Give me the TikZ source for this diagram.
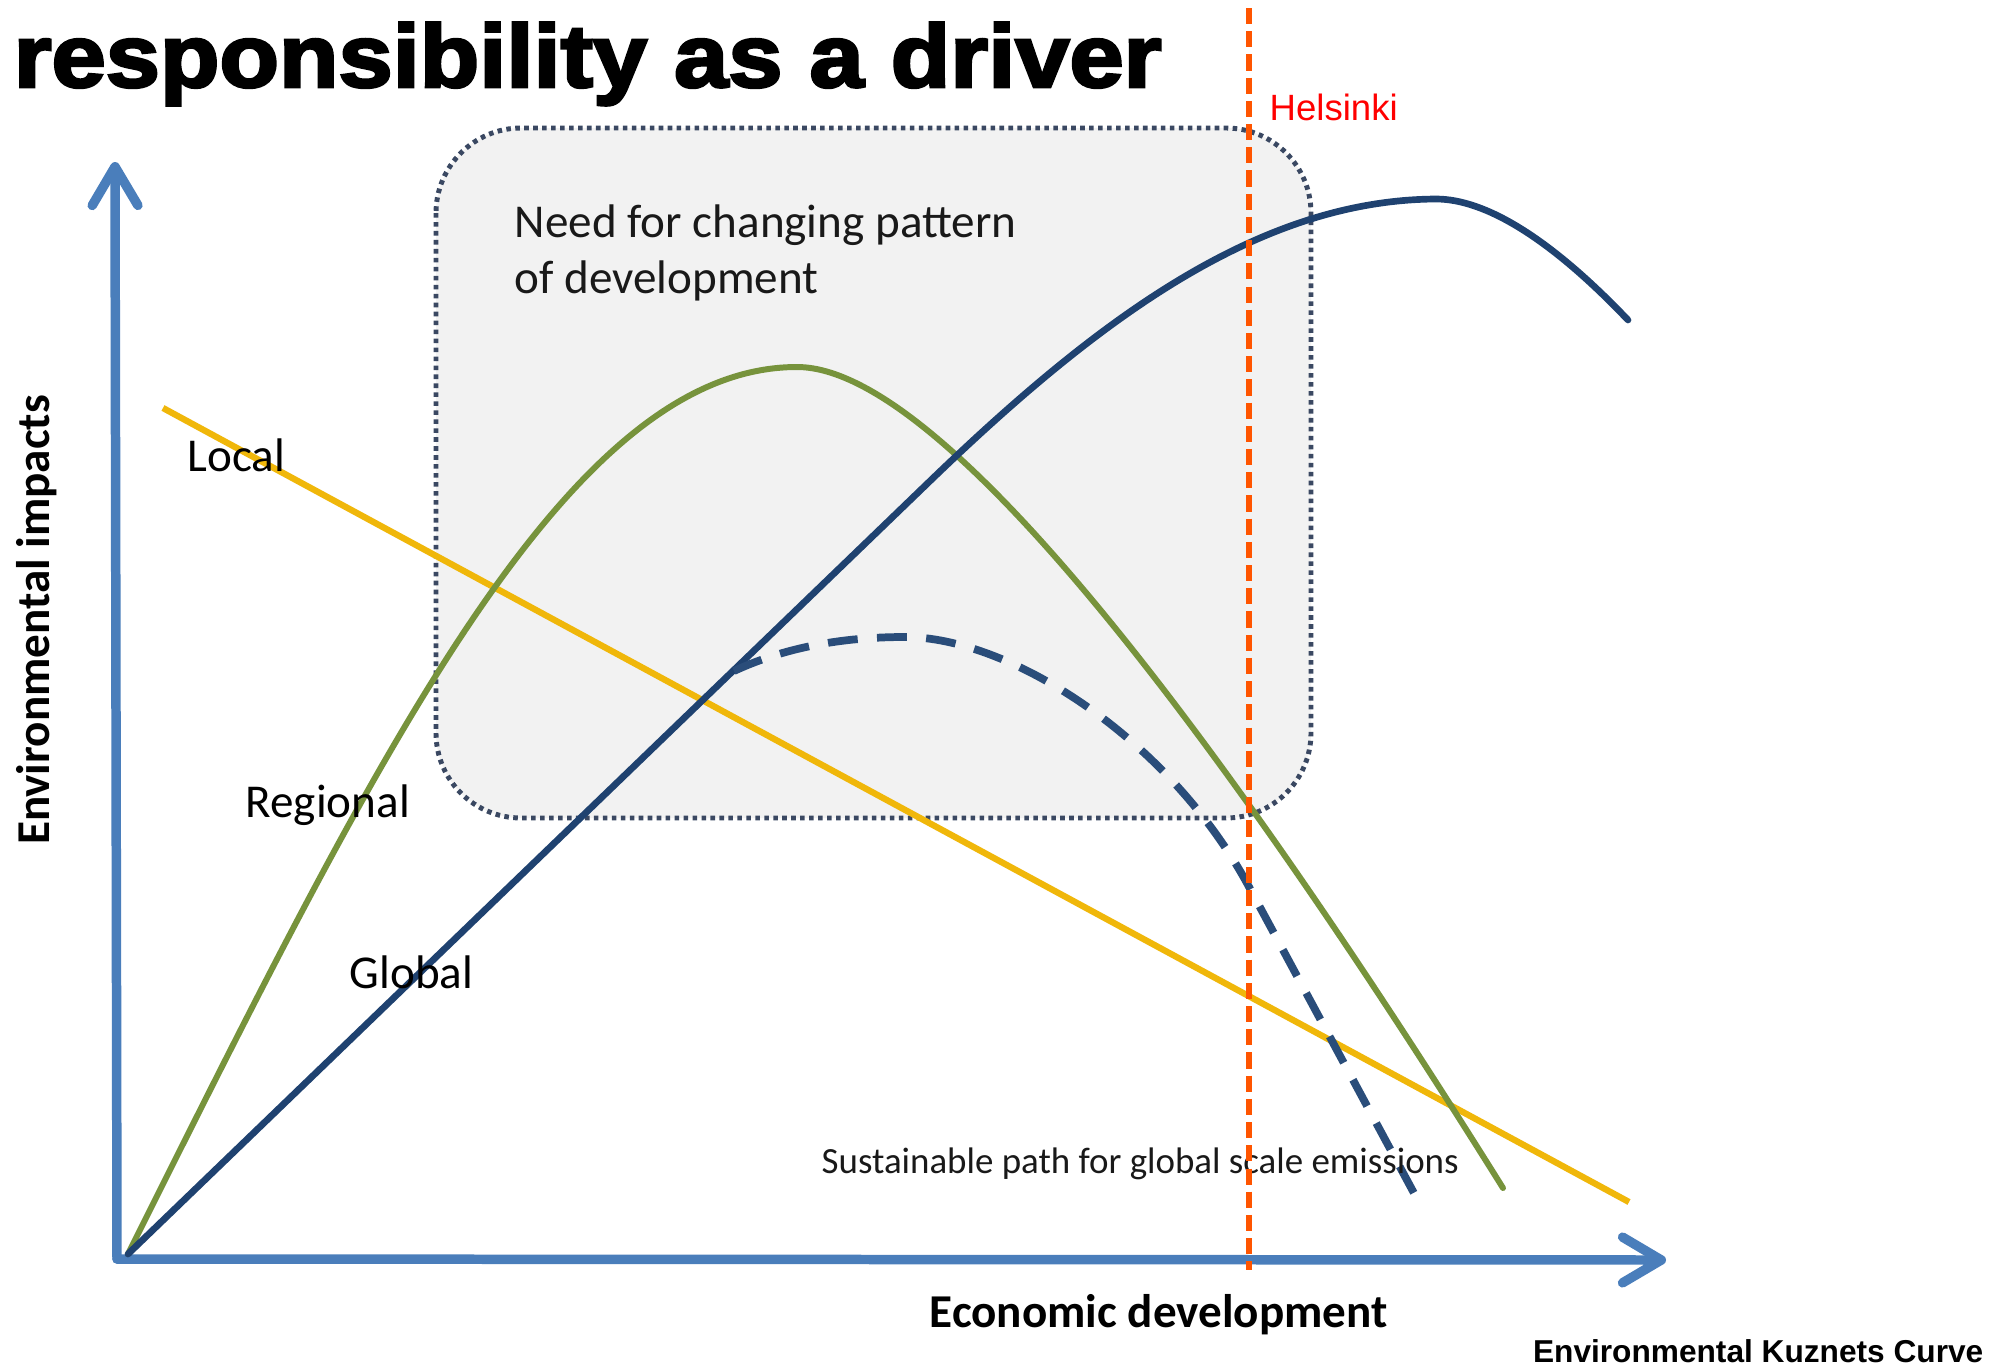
\documentclass[tikz,border=0pt]{standalone}
\usepackage{fontspec}
\setmainfont{Carlito}
\newfontfamily\arialfont{Liberation Sans}
\newfontfamily\titlefont[FakeBold=3]{Liberation Sans Bold}
\usetikzlibrary{arrows.meta}
\definecolor{axisblue}{HTML}{4A7EBB}
\definecolor{globalblue}{HTML}{1F4270}
\definecolor{dashblue}{HTML}{2A4D7A}
\definecolor{regreen}{HTML}{77933C}
\definecolor{locyellow}{HTML}{F0B70A}
\definecolor{helorange}{HTML}{FF5500}
\definecolor{boxfill}{HTML}{F2F2F2}
\definecolor{boxline}{HTML}{3A4862}
\tikzset{
  axisline/.style={draw=axisblue, line width=2.7pt, line cap=round,
    -{Straight Barb[length=11pt,width=13pt,round]}},
  curvelab/.style={inner sep=0pt, anchor=base west, text=black,
    font=\fontsize{13.4pt}{16pt}\selectfont},
  boxtext/.style={inner sep=0pt, anchor=base west, text=black!90,
    font=\fontsize{13.4pt}{16pt}\selectfont},
  axislab/.style={inner sep=0pt, text=black,
    font=\fontsize{13.4pt}{16pt}\selectfont\bfseries},
}
\begin{document}
\begin{tikzpicture}[x=0.01cm,y=-0.01cm]
\fill[white] (0,0) rectangle (2011,1366);
\useasboundingbox (0,0) rectangle (2011,1366);

% box
\path[fill=boxfill, draw=boxline, line width=1.4pt, dash pattern=on 1.3pt off 1.25pt,
  rounded corners=0.85cm] (436,128) rectangle (1311,818);
\node[boxtext] (need1) at (514,237) {Need for changing pattern};
\node[boxtext] (need2) at (514,293) {of development};

% axes
\coordinate (O) at (117,1259);
\coordinate (ytip) at (115,162);
\coordinate (xtip) at (1666,1260);
\draw[axisline] (O) -- (ytip);
\draw[axisline] (O) -- (xtip);

% local (yellow)
\coordinate (loc1) at (163,408);
\coordinate (loc2) at (1629,1202);
\draw[locyellow, line width=1.8pt] (loc1) -- (loc2);

% regional (green)
\coordinate (r0) at (128,1254);
\coordinate (rpk) at (797,367);
\coordinate (r1) at (1503,1188);
\draw[regreen, line width=1.7pt, line cap=round]
  (r0) .. controls (378,754) and (567,367) .. (rpk)
       .. controls (967,367) and (1303,868) .. (r1);

% global (blue)
\coordinate (g0) at (128,1254);
\coordinate (g1) at (930,481);
\coordinate (gpk) at (1436,199);
\coordinate (g2) at (1628,320);
\draw[globalblue, line width=1.9pt, line cap=round]
  (g0) -- (g1) .. controls (1100,317) and (1260,200) .. (gpk)
       .. controls (1485,199) and (1550,238) .. (g2);

% sustainable path (dashed)
\coordinate (s0) at (734,671);
\coordinate (spk) at (905,637);
\coordinate (s1) at (1248,885);
\coordinate (s2) at (1415,1195);
\draw[dashblue, line width=2.2pt, dash pattern=on 8.5pt off 5.5pt]
  (s0) .. controls (790,645) and (850,637) .. (spk)
       .. controls (1010,637) and (1168,738) .. (s1) -- (s2);

% labels
\node[curvelab] (local) at (187,471) {Local};
\node[curvelab] (regional) at (245,817) {Regional};
\node[curvelab] (global) at (349,988) {Global};
\node[inner sep=0pt, anchor=base west, text=black!90,
  font=\fontsize{10.5pt}{12pt}\selectfont] (sust) at (821,1173)
  {Sustainable path for global scale emissions};
\node[axislab, anchor=base west] (xlab) at (929,1327) {Economic development};
\node[axislab, rotate=90, anchor=base] (ylab) at (50,620) {Environmental impacts};

% Helsinki line
\coordinate (h1) at (1249,8);
\coordinate (h2) at (1249,1270);
\draw[helorange, line width=1.45pt, dash pattern=on 4.6pt off 2pt] (h1) -- (h2);
\node[inner sep=0pt, anchor=base west, text=red, font=\arialfont\fontsize{10.4pt}{12pt}\selectfont]
  (hel) at (1269,120) {Helsinki};

% title and caption
\node[inner sep=0pt, anchor=base west, text=black] (title) at (13,87)
  {\scalebox{1.095}[1]{\titlefont\fontsize{25.3pt}{30pt}\selectfont responsibility as a driver}};
\node[inner sep=0pt, anchor=base east, text=black, font=\arialfont\bfseries\fontsize{9pt}{11pt}\selectfont]
  (ekc) at (1984,1362) {Environmental Kuznets Curve};
\end{tikzpicture}
\end{document}
